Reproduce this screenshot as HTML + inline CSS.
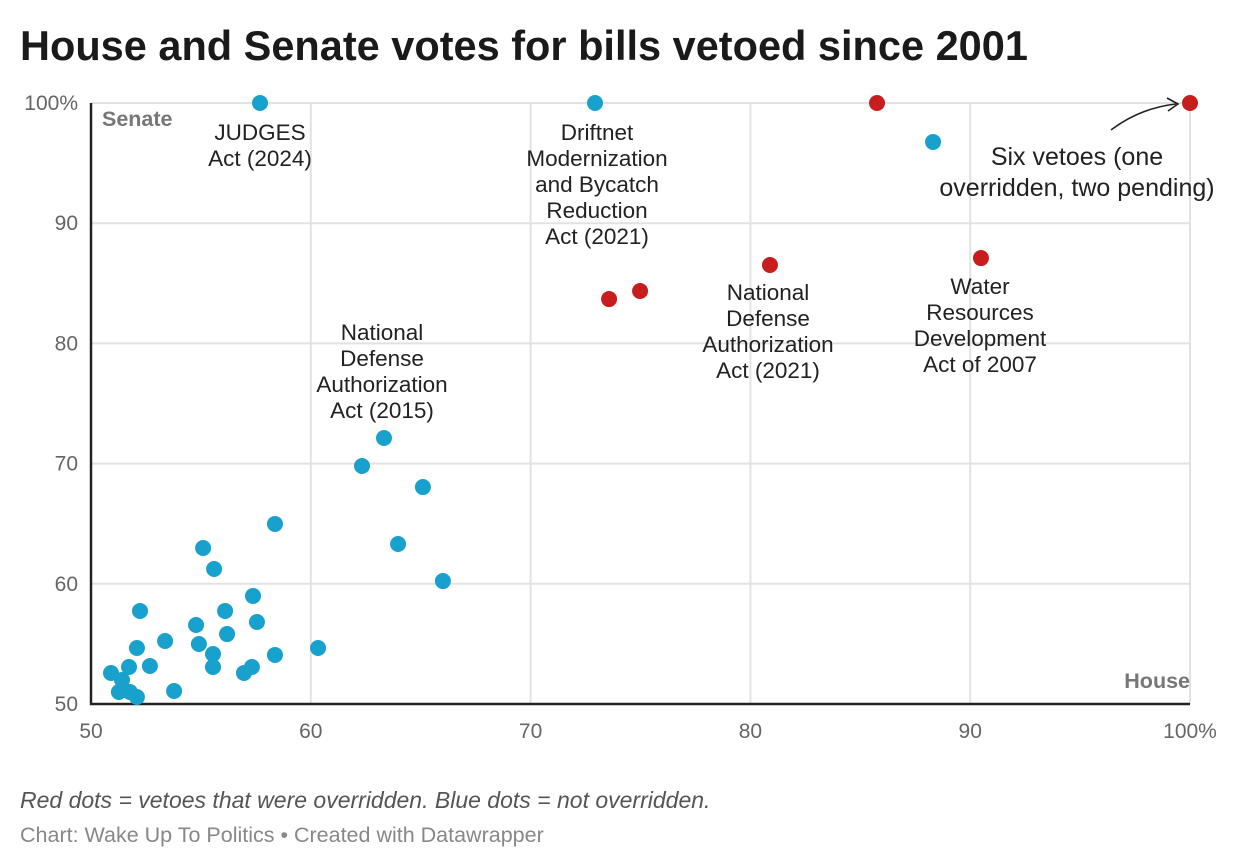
<!DOCTYPE html>
<html><head><meta charset="utf-8"><style>
html,body{margin:0;padding:0;background:#fff;width:1240px;height:868px;overflow:hidden;font-family:"Liberation Sans",sans-serif}
</style></head><body>
<svg id="chart" width="1240" height="868" xmlns="http://www.w3.org/2000/svg">
<text x="20" y="60" font-size="41.5" font-weight="bold" fill="#1a1a1a">House and Senate votes for bills vetoed since 2001</text>
<g id="grid"></g>
<g id="ticks"></g>
<text x="102" y="126" font-size="21.5" font-weight="bold" fill="#777">Senate</text>
<text x="1190" y="688" font-size="21.5" font-weight="bold" fill="#777" text-anchor="end">House</text>
<g id="dots"></g>
<g font-size="22.5" fill="#222" text-anchor="middle">
<text x="260" y="140"><tspan x="260">JUDGES</tspan><tspan x="260" dy="26">Act (2024)</tspan></text>
<text x="597" y="140"><tspan x="597">Driftnet</tspan><tspan x="597" dy="26">Modernization</tspan><tspan x="597" dy="26">and Bycatch</tspan><tspan x="597" dy="26">Reduction</tspan><tspan x="597" dy="26">Act (2021)</tspan></text>
<text x="382" y="340"><tspan x="382">National</tspan><tspan x="382" dy="26">Defense</tspan><tspan x="382" dy="26">Authorization</tspan><tspan x="382" dy="26">Act (2015)</tspan></text>
<text x="768" y="300"><tspan x="768">National</tspan><tspan x="768" dy="26">Defense</tspan><tspan x="768" dy="26">Authorization</tspan><tspan x="768" dy="26">Act (2021)</tspan></text>
<text x="980" y="294"><tspan x="980">Water</tspan><tspan x="980" dy="26">Resources</tspan><tspan x="980" dy="26">Development</tspan><tspan x="980" dy="26">Act of 2007</tspan></text>
<text x="1077" y="165" font-size="25"><tspan x="1077">Six vetoes (one</tspan><tspan x="1077" dy="31">overridden, two pending)</tspan></text>
</g>
<path d="M1111,130 Q1140,108 1176,104" fill="none" stroke="#222" stroke-width="1.6"/>
<path d="M1167,98 L1178,104 L1168,111" fill="none" stroke="#222" stroke-width="1.6"/>
<text x="20" y="808" font-size="23" font-style="italic" fill="#555">Red dots = vetoes that were overridden. Blue dots = not overridden.</text>
<text x="20" y="842" font-size="21.5" fill="#888">Chart: Wake Up To Politics • Created with Datawrapper</text>
</svg>
<script>
const xTicks=[50,60,70,80,90,100];
const yTicks=[50,60,70,80,90,100];
const xTickLabels=["50","60","70","80","90","100%"];
const yTickLabels=["50","60","70","80","90","100%"];
const houseBlue=[58.37,55.10,55.60,63.97,66.01,57.37,52.23,56.10,54.78,57.55,56.19,53.37,54.91,52.09,60.33,55.55,58.37,50.91,51.73,52.68,55.55,56.96,57.32,51.41,51.27,51.77,52.09,53.78,63.33,62.33,65.10,57.69,72.93,88.31];
const senateBlue=[64.98,62.98,61.23,63.31,60.23,58.99,57.74,57.74,56.57,56.82,55.82,55.24,54.99,54.66,54.66,54.16,54.08,52.58,53.08,53.16,53.08,52.58,53.08,52.0,51.0,51.0,50.58,51.08,72.13,69.80,68.05,100,100,96.76];
const houseRed=[73.57,74.98,80.89,85.76,90.49,100];
const senateRed=[83.69,84.36,86.52,100,87.1,100];
const NS="http://www.w3.org/2000/svg";
const X=v=>91+(v-50)*21.98;
const Y=v=>704-(v-50)*12.02;
const grid=document.getElementById('grid'),ticks=document.getElementById('ticks'),dots=document.getElementById('dots');
function mk(t,a,p){const e=document.createElementNS(NS,t);for(const k in a)e.setAttribute(k,a[k]);p.appendChild(e);return e;}
xTicks.forEach((t,i)=>{
 if(i>0){const l=mk('line',{x1:X(t),x2:X(t),y1:103,y2:704,stroke:'#e2e2e2','stroke-width':2},grid);
 
 }
 const tx=mk('text',{x:X(t),y:738,'font-size':21,fill:'#666','text-anchor':'middle'},ticks);tx.textContent=xTickLabels[i];
 
 
});
yTicks.forEach((t,i)=>{
 if(i>0){const l=mk('line',{x1:91,x2:1190,y1:Y(t),y2:Y(t),stroke:'#e2e2e2','stroke-width':2},grid);
 
 }
 const tx=mk('text',{x:78,y:Y(t)+7,'font-size':21,fill:'#666','text-anchor':'end'},ticks);tx.textContent=yTickLabels[i];
 
 
});
const ax=mk('path',{d:'M91,103 L91,704 L1190,704',fill:'none',stroke:'#222','stroke-width':2.5},grid);


houseBlue.forEach((h,i)=>{const c=mk('circle',{cx:X(h),cy:Y(senateBlue[i]),r:8,fill:'#18a1cd'},dots);
 
 });
houseRed.forEach((h,i)=>{const c=mk('circle',{cx:X(h),cy:Y(senateRed[i]),r:8,fill:'#c71e1d'},dots);
 
 });
</script>
</body></html>
